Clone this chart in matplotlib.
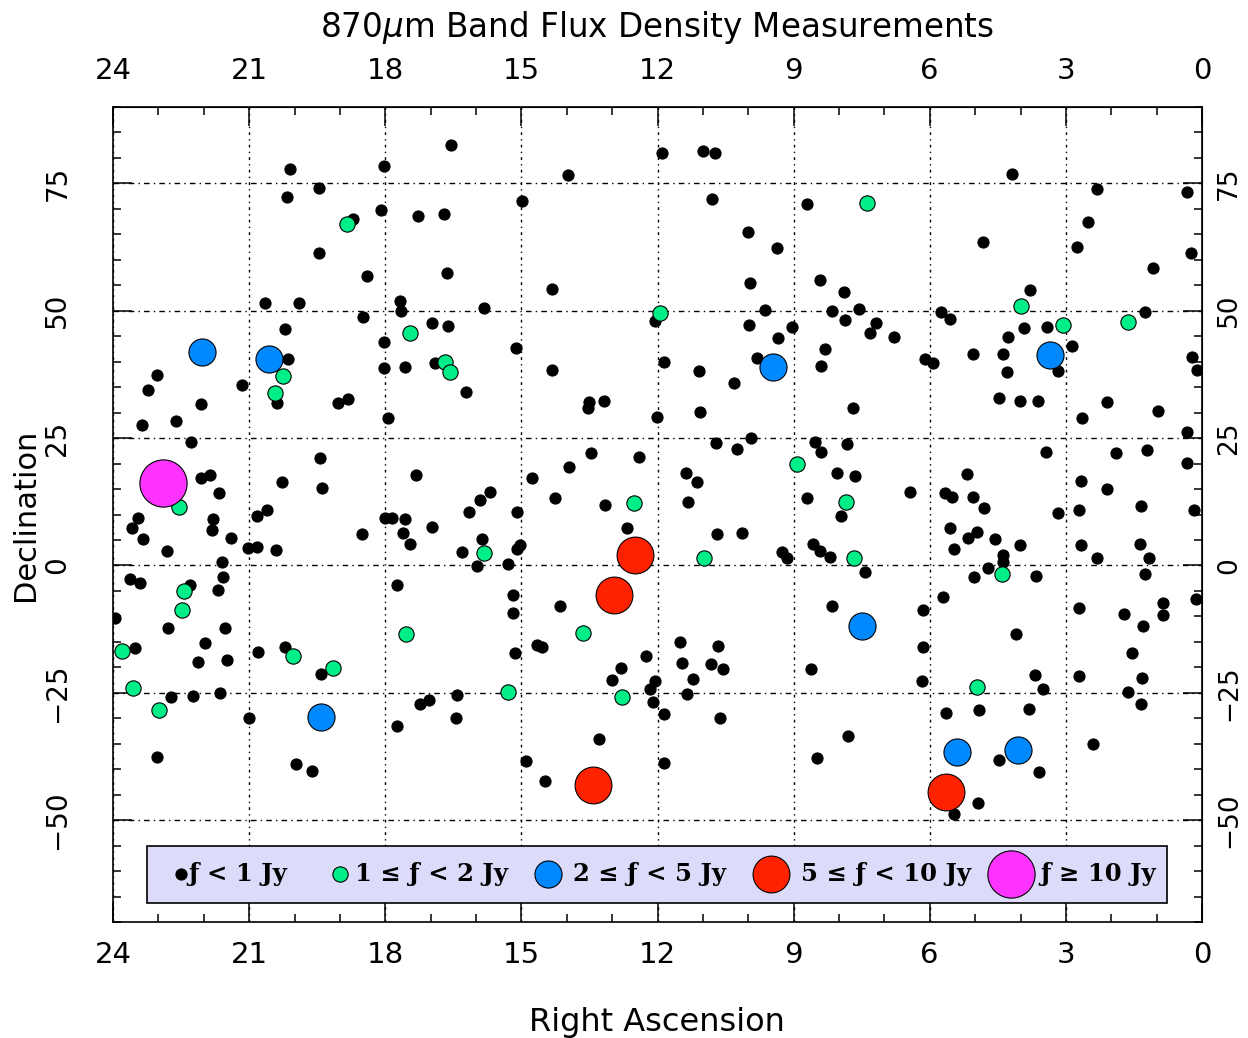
import matplotlib.pyplot as plt
from matplotlib.patches import Rectangle

# 870um sources: (RA [h], Dec [deg]) grouped by flux density bin
faint = [  # f < 1 Jy
    (20.1, 77.8), (19.46, 74), (20.17, 72.3), (18.03, 78.4), (18.1, 69.7), (18.7, 68),
    (19.46, 61.3), (18.4, 56.8), (20.65, 51.5), (19.9, 51.5), (18.5, 48.7), (20.2, 46.4),
    (18.03, 43.8), (20.15, 40.5), (18.03, 38.7), (23.03, 37.3),
    (16.55, 82.5), (13.97, 76.6), (14.99, 71.5), (11.9, 81), (17.28, 68.6), (16.7, 69),
    (16.64, 57.4), (14.33, 54.2), (17.68, 52), (17.65, 49.9), (15.83, 50.5), (12.06, 47.9),
    (16.97, 47.5), (16.62, 47), (15.12, 42.6), (17.57, 38.9), (16.9, 39.7), (14.33, 38.3),
    (11.85, 39.9),
    (11.0, 81.3), (10.73, 80.9), (10.8, 71.9), (8.71, 70.9), (10.0, 65.4), (9.37, 62.3),
    (9.96, 55.4), (8.42, 56), (7.89, 53.6), (7.56, 50.3), (9.63, 50.1), (8.16, 49.9),
    (7.87, 48.1), (7.19, 47.5), (7.32, 45.6), (6.79, 44.8), (9.98, 47.3), (9.04, 46.8),
    (9.35, 44.6), (8.31, 42.4), (8.4, 39.1), (11.09, 38.1), (10.32, 35.8), (9.8, 40.7),
    (6.1, 40.5), (5.93, 39.7),
    (4.19, 76.8), (2.31, 73.9), (0.33, 73.3), (2.51, 67.4), (2.76, 62.5), (4.83, 63.5),
    (0.24, 61.3), (1.08, 58.3), (3.79, 54), (5.75, 49.7), (5.55, 48.3), (3.92, 46.6),
    (4.28, 44.8), (3.42, 46.8), (1.26, 49.7), (2.87, 43), (5.05, 41.6), (4.39, 41.6),
    (4.3, 37.9), (3.17, 38.1), (0.22, 40.9), (0.11, 38.3),
    (23.23, 34.4), (20.39, 31.8), (21.16, 35.4), (22.06, 31.6), (19.04, 31.8), (18.82, 32.6),
    (17.93, 28.9), (23.36, 27.5), (22.61, 28.3), (22.28, 24.2), (19.44, 21), (22.06, 17.1),
    (21.86, 17.7), (21.67, 14.3), (20.28, 16.3), (19.4, 15.3), (21.8, 9.2), (20.83, 9.8),
    (20.61, 10.8), (23.45, 9.4), (23.58, 7.3), (21.82, 6.9), (21.4, 5.3), (23.34, 5.1),
    (22.81, 2.9), (21.03, 3.5), (20.83, 3.7), (20.41, 3.1), (18.51, 6.1), (21.6, 0.6),
    (21.58, -2.2), (23.63, -2.6), (23.41, -3.5), (22.3, -3.9), (21.69, -4.9), (23.96, -10.4),
    (22.79, -12.2), (21.53, -12.2), (21.97, -15.3), (23.52, -16.3), (20.81, -16.9),
    (20.21, -16.1), (18.0, 9.4),
    (22.13, -18.9), (21.49, -18.5), (19.42, -21.4), (22.72, -25.9), (22.24, -25.7),
    (21.64, -25), (21.0, -29.9), (23.03, -37.7), (19.97, -38.9), (19.62, -40.3),
    (16.22, 34), (13.53, 31), (13.51, 32), (13.18, 32.2), (12.01, 29.1), (13.47, 22),
    (12.41, 21.2), (13.95, 19.3), (17.32, 17.7), (14.77, 17.1), (15.69, 14.5), (15.91, 12.8),
    (14.26, 13.2), (13.16, 11.8), (16.16, 10.4), (15.1, 10.4), (17.85, 9.4), (17.57, 9.2),
    (16.97, 7.5), (17.61, 6.3), (17.46, 4.3), (12.67, 7.3), (15.87, 5.1), (16.31, 2.6),
    (15.03, 4.1), (15.1, 3.3), (15.98, -0.2), (15.3, 0.2), (17.74, -3.9), (15.19, -5.9),
    (15.19, -9.4), (14.15, -8), (14.66, -15.7), (14.55, -16.1), (15.14, -17.1), (12.25, -17.7),
    (12.81, -20.2), (13.0, -22.4), (12.06, -22.6), (12.17, -24.2), (12.1, -26.9),
    (11.85, -29.1), (17.24, -27.3), (17.04, -26.5), (16.42, -25.5), (16.44, -30),
    (17.74, -31.6), (13.29, -34), (14.9, -38.3), (14.48, -42.4), (11.85, -38.7),
    (11.06, 30.1), (7.69, 31), (9.94, 25.1), (10.71, 24), (10.25, 22.8), (8.53, 24.2),
    (8.4, 22.2), (7.82, 23.8), (11.37, 18.1), (11.13, 16.3), (8.04, 18.1), (7.65, 17.5),
    (6.44, 14.5), (11.33, 12.4), (8.71, 13.2), (7.96, 9.8), (10.69, 6.1), (10.14, 6.3),
    (9.26, 2.6), (9.15, 1.4), (8.57, 4.3), (8.42, 2.9), (8.2, 1.6), (7.43, -1.2),
    (8.16, -8), (6.15, -8.8), (11.5, -15.1), (10.67, -15.9), (6.15, -16.1),
    (11.46, -19.1), (10.82, -19.4), (10.56, -20.4), (11.22, -22.2), (11.35, -25.3),
    (10.62, -29.9), (8.62, -20.4), (6.17, -22.6), (7.8, -33.4), (8.49, -37.9),
    (4.47, 32.8), (4.01, 32.2), (3.61, 32.2), (2.09, 32), (0.97, 30.3), (2.64, 28.9),
    (0.33, 26.1), (3.44, 22.2), (1.9, 22), (1.21, 22.6), (0.33, 20.2), (5.18, 17.9),
    (2.67, 16.5), (2.09, 15.1), (5.66, 14.3), (5.51, 13.4), (5.05, 13.4), (4.8, 11.2),
    (1.34, 11.6), (0.18, 10.8), (3.17, 10.2), (2.71, 10.8), (5.55, 7.3), (5.16, 5.3),
    (4.96, 6.5), (4.56, 5.1), (5.47, 3.3), (4.01, 4.1), (2.67, 4.1), (1.37, 4.3),
    (4.39, 2), (2.31, 1.4), (1.17, 1.4), (4.72, -0.6), (4.39, 0.6), (5.03, -2.2),
    (3.66, -2), (1.26, -1.6), (0.13, -6.5), (5.71, -6.1), (2.71, -8.4), (0.86, -7.3),
    (0.86, -9.8), (1.72, -9.6), (1.3, -11.8), (4.1, -13.4), (1.54, -17.1),
    (3.68, -21.6), (2.71, -21.8), (1.32, -22), (3.5, -24.2), (1.63, -24.8), (1.34, -27.3),
    (5.64, -28.9), (4.92, -28.3), (3.81, -28.1), (4.47, -38.1), (3.59, -40.5), (2.4, -35),
    (4.94, -46.6), (5.47, -48.7),
]
bin_1_2 = [
    (18.84, 67), (20.26, 37.1), (17.46, 45.6), (16.68, 39.9), (16.57, 37.9), (11.95, 49.5),
    (7.38, 71.1), (3.99, 50.9), (3.06, 47.2), (1.63, 47.7), (20.43, 33.8), (22.55, 11.4),
    (22.44, -5.1), (22.48, -8.8), (23.8, -16.7), (20.03, -17.7), (19.15, -20.2),
    (23.56, -24), (22.99, -28.3), (12.52, 12.2), (15.83, 2.4), (17.54, -13.4),
    (13.64, -13.2), (15.3, -24.8), (12.78, -25.9), (8.93, 20), (7.85, 12.4), (10.98, 1.4),
    (7.67, 1.4), (4.41, -1.6), (4.96, -23.8),
]
bin_2_5 = [
    (22.04, 42), (20.56, 40.5), (9.46, 38.9), (3.35, 41.3), (19.42, -29.7), (7.49, -11.8),
    (5.4, -36.7), (4.06, -36.3),
]
bin_5_10 = [(12.5, 2), (12.96, -5.9), (13.42, -43.2), (5.64, -44.4)]
bright = [(22.9, 16.1)]

groups = [
    (faint, 'black', 8, 'ƒ < 1 Jy'),
    (bin_1_2, '#00ee88', 11, '1 ≤ ƒ < 2 Jy'),
    (bin_2_5, '#0088ff', 19.5, '2 ≤ ƒ < 5 Jy'),
    (bin_5_10, '#ff2200', 26.5, '5 ≤ ƒ < 10 Jy'),
    (bright, '#ff33ff', 34, 'ƒ ≥ 10 Jy'),
]

W, H = 1248, 1038
fig = plt.figure(figsize=(W / 100, H / 100), dpi=100)
ax = fig.add_axes([113 / W, 1 - 922 / H, 1089 / W, 815 / H])
ax.set_xlim(24, 0)
ax.set_ylim(-70, 90)

xt = list(range(24, -1, -3))
yt = [-50, -25, 0, 25, 50, 75]
ax.set_xticks(xt)
ax.set_xticks(range(0, 25), minor=True)
ax.set_yticks(yt)
ax.set_yticks(range(-70, 91, 5), minor=True)
ax.tick_params(which='both', direction='in', top=True, right=True, width=1.1, labelsize=21)
ax.tick_params(which='major', length=14)
ax.tick_params(which='minor', length=6)
ax.tick_params(axis='x', pad=14)
ax.tick_params(axis='y', pad=30, labelsize=20, labelrotation=90)
plt.setp(ax.get_yticklabels(), va='center')
for s in ax.spines.values():
    s.set_linewidth(1.2)

ax.xaxis.grid(True, color='black', lw=1.0, linestyle=(0, (2, 3, 1, 3)))
ax.yaxis.grid(True, color='black', lw=1.0, linestyle=(0, (4, 3, 1, 3)))
ax.set_axisbelow(True)

top = ax.secondary_xaxis('top')
top.set_xticks(xt)
top.tick_params(length=0, labelsize=21, pad=16)
right = ax.secondary_yaxis('right')
right.set_yticks(yt)
right.tick_params(length=0, labelsize=19, pad=10, labelrotation=90)
plt.setp(right.get_yticklabels(), va='center')

for z, (pts, col, ms, lab) in enumerate(groups):
    ra = [p[0] for p in pts]
    dec = [p[1] for p in pts]
    ax.plot(ra, dec, 'o', color=col, ms=ms, mec='black', mew=0.8, zorder=3 + z)

# legend strip along the bottom of the frame
ax.add_patch(Rectangle((0.0312, 0.0233), 0.9367, 0.07, transform=ax.transAxes,
                       facecolor='#dcdcfa', edgecolor='black', lw=1.2, zorder=10))
mark_x = [0.0624, 0.2084, 0.3994, 0.6042, 0.8246]
text_x = [0.0689, 0.2222, 0.4224, 0.6318, 0.8512]
for (pts, col, ms, lab), mx, tx in zip(groups, mark_x, text_x):
    ax.plot([mx], [0.0589], 'o', color=col, ms=ms, mec='black', mew=0.8,
            transform=ax.transAxes, clip_on=False, zorder=11)
    ax.text(tx, 0.0589, lab, transform=ax.transAxes, ha='left', va='center',
            fontsize=17.5, fontweight='bold', family='DejaVu Serif', zorder=12)

fig.text(657 / W, 1 - 28 / H, '870$\\mu$m Band Flux Density Measurements',
         ha='center', va='center', fontsize=23.5)
fig.text(657 / W, 1 - 1022 / H, 'Right Ascension', ha='center', va='center', fontsize=23)
fig.text(26 / W, 1 - 515 / H, 'Declination', ha='center', va='center',
         rotation=90, fontsize=22)

fig.savefig('out.png', dpi=100)
